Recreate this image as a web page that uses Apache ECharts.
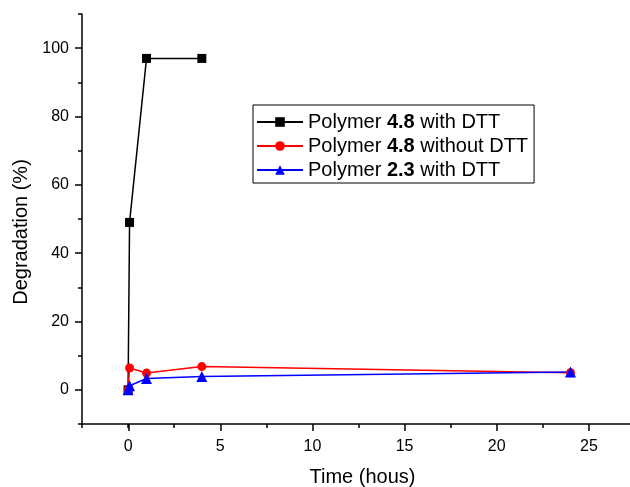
<!DOCTYPE html>
<html>
<head>
<meta charset="utf-8">
<script src="https://cdn.jsdelivr.net/npm/echarts@6/dist/echarts.min.js"></script>
<style>html,body{margin:0;padding:0;background:#fff}#c{width:630px;height:487px}</style>
</head>
<body>
<div id="c"></div>
<script>
// Data
const seriesNames = ['Polymer 4.8 with DTT', 'Polymer 4.8 without DTT', 'Polymer 2.3 with DTT'];
const timeBlack = [0, 0.08, 1, 4];
const valBlack = [0, 49, 97, 97];
const timeRed = [0, 0.08, 1, 4, 24];
const valRed = [0, 6.4, 4.9, 6.8, 5.0];
const timeBlue = [0, 0.08, 1, 4, 24];
const valBlue = [0, 1.2, 3.3, 3.9, 5.2];
const xTickLabels = [0, 5, 10, 15, 20, 25];
const yTickLabels = [0, 20, 40, 60, 80, 100];

const zip = (xs, ys) => xs.map((x, i) => [x, ys[i]]);
const font = 'Arial, "Liberation Sans", sans-serif';

const chart = echarts.init(document.getElementById('c'), null, {renderer: 'canvas'});
const axisLineStyle = {color: '#000', width: 1.5};

chart.setOption({
  backgroundColor: '#fff',
  animation: false,
  textStyle: {fontFamily: font, color: '#000'},
  grid: [
    {left: 82, right: -5, top: 14, bottom: 63, containLabel: false, outerBoundsMode: 'none'},
    {left: 129, right: 41, top: 48, bottom: 97, containLabel: false, outerBoundsMode: 'none'}
  ],
  legend: {
    data: seriesNames,
    orient: 'vertical',
    left: 253, top: 105,
    borderColor: '#000', borderWidth: 1, backgroundColor: '#fff',
    padding: [7, 6, 3, 3],
    itemGap: 4,
    itemWidth: 46, itemHeight: 12,
    formatter: name => name.replace(/(\d\.\d)/, '{b|$1}'),
    textStyle: {fontFamily: font, fontSize: 20, color: '#000',
      rich: {b: {fontFamily: font, fontSize: 20, fontWeight: 'bold', color: '#000'}}}
  },
  xAxis: [
    {
      type: 'value', gridIndex: 0, min: -2.5, max: 27.5, interval: 2.5,
      name: 'Time (hous)', nameLocation: 'middle', nameGap: 43,
      nameTextStyle: {fontFamily: font, fontSize: 20, color: '#000', padding: [0, 0, 0, 8]},
      axisLine: {show: true, onZero: false, lineStyle: axisLineStyle},
      axisTick: {show: true, length: 4, lineStyle: axisLineStyle},
      axisLabel: {show: true, margin: 15, fontSize: 16, color: '#000', fontFamily: font,
        formatter: v => xTickLabels.some(t => Math.abs(t - v) < 1e-9) ? String(v) : ''},
      splitLine: {show: false}
    },
    {
      type: 'value', gridIndex: 1, min: 0, max: 25, interval: 5, offset: 34,
      axisLine: {show: false, onZero: false},
      axisTick: {show: true, length: 7, lineStyle: axisLineStyle},
      axisLabel: {show: false},
      splitLine: {show: false}
    }
  ],
  yAxis: [
    {
      type: 'value', gridIndex: 0, min: -10, max: 110, interval: 10,
      name: 'Degradation (%)', nameLocation: 'middle', nameGap: 50,
      nameTextStyle: {fontFamily: font, fontSize: 20, color: '#000', padding: [0, 26, 0, 0]},
      axisLine: {show: true, onZero: false, lineStyle: axisLineStyle},
      axisTick: {show: true, length: 4, lineStyle: axisLineStyle},
      axisLabel: {show: true, margin: 13, fontSize: 16, color: '#000', fontFamily: font,
        formatter: v => yTickLabels.some(t => Math.abs(t - v) < 1e-9) ? String(v) : ''},
      splitLine: {show: false}
    },
    {
      type: 'value', gridIndex: 1, min: 0, max: 100, interval: 20, offset: 47,
      axisLine: {show: false, onZero: false},
      axisTick: {show: true, length: 7, lineStyle: axisLineStyle},
      axisLabel: {show: false},
      splitLine: {show: false}
    }
  ],
  series: [
    {
      name: seriesNames[0], type: 'line', xAxisIndex: 0, yAxisIndex: 0,
      data: zip(timeBlack, valBlack),
      symbol: 'rect', symbolSize: 9,
      lineStyle: {color: '#000', width: 1.5}, itemStyle: {color: '#000'}
    },
    {
      name: seriesNames[1], type: 'line', xAxisIndex: 0, yAxisIndex: 0,
      data: zip(timeRed, valRed),
      symbol: 'circle', symbolSize: 9,
      lineStyle: {color: '#ff0000', width: 1.5}, itemStyle: {color: '#ff0000'}
    },
    {
      name: seriesNames[2], type: 'line', xAxisIndex: 0, yAxisIndex: 0,
      data: zip(timeBlue, valBlue),
      symbol: 'triangle', symbolSize: 11,
      lineStyle: {color: '#0000ff', width: 1.5}, itemStyle: {color: '#0000ff'}
    }
  ]
});
</script>
</body>
</html>
